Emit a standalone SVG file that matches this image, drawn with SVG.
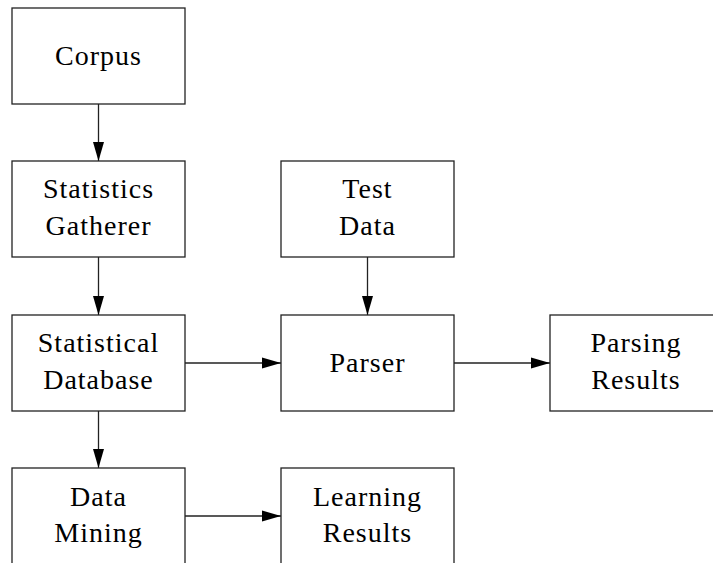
<svg xmlns="http://www.w3.org/2000/svg" width="713" height="563" viewBox="0 0 713 563">
<style>
.box{fill:#fff;stroke:#222;stroke-width:1.3}
.lbl{font-family:"Liberation Serif",serif;font-size:28px;letter-spacing:1px;fill:#000;text-anchor:middle}
.edge{stroke:#222;stroke-width:1.3;fill:none}
</style>
<defs>
<marker id="ah" markerUnits="userSpaceOnUse" markerWidth="20" markerHeight="12" refX="19" refY="6" orient="auto">
<path d="M0,0.5 L19,6 L0,11.5 Z" fill="#000"/>
</marker>
</defs>
<rect width="713" height="563" fill="#fff"/>
<g id="connectors">
<line class="edge" marker-end="url(#ah)" x1="98.5" y1="104" x2="98.5" y2="161"/>
<line class="edge" marker-end="url(#ah)" x1="98.5" y1="257" x2="98.5" y2="315"/>
<line class="edge" marker-end="url(#ah)" x1="98.5" y1="411" x2="98.5" y2="468"/>
<line class="edge" marker-end="url(#ah)" x1="367.5" y1="257" x2="367.5" y2="315"/>
<line class="edge" marker-end="url(#ah)" x1="185" y1="363" x2="281" y2="363"/>
<line class="edge" marker-end="url(#ah)" x1="454" y1="363" x2="550" y2="363"/>
<line class="edge" marker-end="url(#ah)" x1="185" y1="516" x2="281" y2="516"/>
</g>
<g id="corpus"><rect class="box" x="12" y="8" width="173" height="96"/><text class="lbl" x="98.5" y="65">Corpus</text></g>
<g id="statistics-gatherer"><rect class="box" x="12" y="161" width="173" height="96"/><text class="lbl" x="98.5" y="198">Statistics</text><text class="lbl" x="98.5" y="235">Gatherer</text></g>
<g id="statistical-database"><rect class="box" x="12" y="315" width="173" height="96"/><text class="lbl" x="98.5" y="352">Statistical</text><text class="lbl" x="98.5" y="389">Database</text></g>
<g id="data-mining"><rect class="box" x="12" y="468" width="173" height="100"/><text class="lbl" x="98.5" y="506">Data</text><text class="lbl" x="98.5" y="542">Mining</text></g>
<g id="test-data"><rect class="box" x="281" y="161" width="173" height="96"/><text class="lbl" x="367.5" y="198">Test</text><text class="lbl" x="367.5" y="235">Data</text></g>
<g id="parser"><rect class="box" x="281" y="315" width="173" height="96"/><text class="lbl" x="367.5" y="372">Parser</text></g>
<g id="parsing-results"><rect class="box" x="550" y="315" width="173" height="96"/><text class="lbl" x="636" y="352">Parsing</text><text class="lbl" x="636" y="389">Results</text></g>
<g id="learning-results"><rect class="box" x="281" y="468" width="173" height="100"/><text class="lbl" x="367.5" y="506">Learning</text><text class="lbl" x="367.5" y="542">Results</text></g>
</svg>
